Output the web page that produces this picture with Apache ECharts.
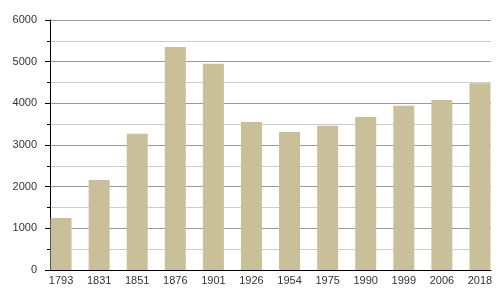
<!DOCTYPE html>
<html><head><meta charset="utf-8">
<script src="https://cdn.jsdelivr.net/npm/echarts@6/dist/echarts.min.js"></script>
<style>html,body{margin:0;padding:0;background:#fff}#c{width:500px;height:300px}</style>
</head><body><div id="c"></div>
<script>
const years = ['1793','1831','1851','1876','1901','1926','1954','1975','1990','1999','2006','2018'];
const population = [1250, 2160, 3270, 5350, 4950, 3550, 3310, 3460, 3670, 3940, 4080, 4480];
const yTicks = [0, 1000, 2000, 3000, 4000, 5000, 6000];

const chart = echarts.init(document.getElementById('c'), null, {renderer: 'canvas'});
const font = 'Liberation Sans, Arial, sans-serif';
chart.setOption({
  animation: false,
  backgroundColor: '#fff',
  grid: [
    {left: 50, right: 9, top: 20, bottom: 30},
    {left: 42, right: 1, top: 20, bottom: 30}
  ],
  xAxis: [
    {gridIndex: 0, type: 'value', min: 0, max: 1,
     axisLine: {show: true, lineStyle: {color: '#000', width: 1}},
     axisTick: {show: false}, axisLabel: {show: false}, splitLine: {show: false}},
    {gridIndex: 1, type: 'category', data: years, boundaryGap: true,
     axisLine: {show: false}, axisTick: {show: false},
     axisLabel: {color: '#333', fontFamily: font, fontSize: 11, margin: 5}}
  ],
  yAxis: [
    {gridIndex: 0, type: 'value', min: yTicks[0], max: yTicks[yTicks.length-1], interval: 1000,
     axisLine: {show: true, lineStyle: {color: '#000', width: 1}},
     axisTick: {show: true, length: 5, lineStyle: {color: '#000'}},
     minorTick: {show: true, splitNumber: 2, length: 3, lineStyle: {color: '#000'}},
     axisLabel: {color: '#333', fontFamily: font, fontSize: 11, margin: 13,
                 formatter: v => String(v)},
     splitLine: {show: true, lineStyle: {color: '#999', width: 1}},
     minorSplitLine: {show: true, lineStyle: {color: '#ccc', width: 1}}},
    {gridIndex: 1, type: 'value', min: yTicks[0], max: yTicks[yTicks.length-1], show: false}
  ],
  series: [{
    type: 'bar', xAxisIndex: 1, yAxisIndex: 1, data: population,
    barWidth: 21,
    itemStyle: {color: '#c9c09a'}
  }]
});
</script></body></html>
